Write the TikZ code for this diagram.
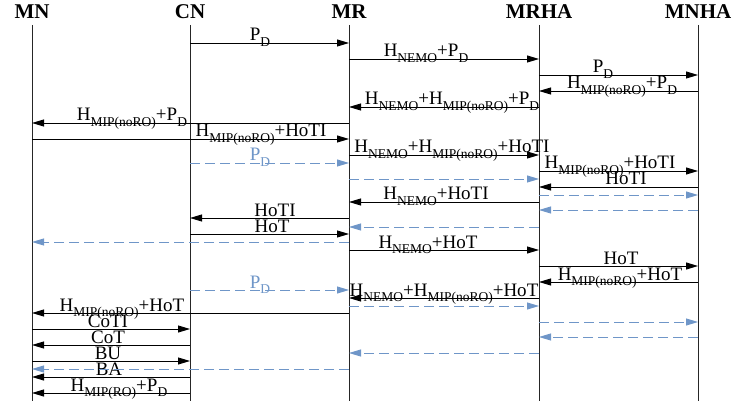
\documentclass[tikz,border=0pt]{standalone}
\usepackage{fontspec}
\setmainfont{Liberation Serif}
\usetikzlibrary{arrows.meta}

\definecolor{ctlblue}{RGB}{111,150,200}
\newcommand{\sub}[1]{\raisebox{-0.3em}{\fontsize{13.5}{13.5}\selectfont #1}}

\tikzset{
    entity/.style={anchor=base, inner sep=0pt, font=\fontsize{21}{21}\selectfont\bfseries},
    lifeline/.style={line width=0.9pt, black!85},
    msg/.style={line width=0.9pt, -{Triangle[length=12pt,width=7pt]}},
    ctl/.style={line width=0.9pt, ctlblue, dash pattern=on 10pt off 5pt, -{Triangle[length=12pt,width=7pt]}},
    lbl/.style={anchor=base, inner sep=0pt, yshift=2pt, font=\fontsize{19}{19}\selectfont}
}

\begin{document}
\begin{tikzpicture}[x=1pt,y=-1pt]

\useasboundingbox (0,0) rectangle (735,403);

% Entites et lignes de vie
\foreach \n/\x in {MN/32,CN/190,MR/349,MRHA/539,MNHA/698}
{
    \node[entity] (\n) at (\x,19) {\n};
    \draw[lifeline] (\x,25) -- (\x,401);
}

% Messages de signalisation et de donnees
\foreach \a/\b/\y/\lx/\t [count=\i] in {
CN/MR/43/260/{P\sub{D}},
MR/MRHA/59/426/{H\sub{NEMO}+P\sub{D}},
MRHA/MNHA/75/603/{P\sub{D}},
MNHA/MRHA/91/622/{H\sub{MIP(noRO)}+P\sub{D}},
MRHA/MR/107/452/{H\sub{NEMO}+H\sub{MIP(noRO)}+P\sub{D}},
MR/MN/123/132/{H\sub{MIP(noRO)}+P\sub{D}},
MN/MR/139/261/{H\sub{MIP(noRO)}+HoTI},
MR/MRHA/155/452/{H\sub{NEMO}+H\sub{MIP(noRO)}+HoTI},
MRHA/MNHA/171/610/{H\sub{MIP(noRO)}+HoTI},
MNHA/MRHA/187/626/{HoTI},
MRHA/MR/202/436/{H\sub{NEMO}+HoTI},
MR/CN/218/275/{HoTI},
CN/MR/234/272/{HoT},
MR/MRHA/250/428/{H\sub{NEMO}+HoT},
MRHA/MNHA/266/621/{HoT},
MNHA/MRHA/282/620/{H\sub{MIP(noRO)}+HoT},
MRHA/MR/298/444/{H\sub{NEMO}+H\sub{MIP(noRO)}+HoT},
MR/MN/313/122/{H\sub{MIP(noRO)}+HoT},
MN/CN/329/108/{CoTI},
CN/MN/345/108/{CoT},
MN/CN/361/108/{BU},
CN/MN/377/109/{BA},
CN/MN/393/119/{H\sub{MIP(RO)}+P\sub{D}}
}
{
    \draw[msg] (\a |- 0,\y) -- (\b |- 0,\y);
    \node[lbl] (m\i) at (\lx,\y) {\t};
}

% Paquets en pointille
\foreach \a/\b/\y in {
CN/MR/163, MR/MRHA/179, MRHA/MNHA/195, MNHA/MRHA/210,
MRHA/MR/227, MR/MN/242,
CN/MR/290, MR/MRHA/306, MRHA/MNHA/322, MNHA/MRHA/337,
MRHA/MR/353, MR/MN/369
}
{
    \draw[ctl] (\a |- 0,\y) -- (\b |- 0,\y);
}

\node[lbl, ctlblue] (pd1) at (260,163) {P\sub{D}};
\node[lbl, ctlblue] (pd2) at (260,290) {P\sub{D}};

\end{tikzpicture}
\end{document}
